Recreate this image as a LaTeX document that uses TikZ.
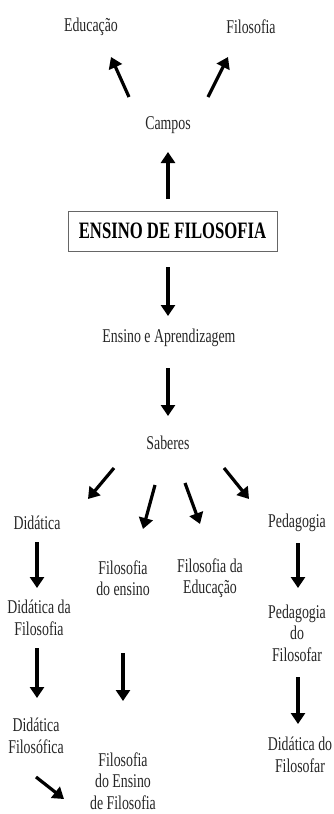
\documentclass[tikz,border=0pt]{standalone}
\usepackage{fontspec}
\setmainfont{Liberation Serif}[FakeStretch=0.71]
\usetikzlibrary{arrows.meta}
\begin{document}
\begin{tikzpicture}[x=1pt,y=-1pt,
  lbl/.style={font=\fontsize{19.5}{21.5}\selectfont,align=center,inner sep=0pt,text=black!85},
  arr/.style={line width=3.2pt,-{Triangle[width=14pt,length=11pt]}}]
\useasboundingbox (0,0) rectangle (334,814);
% nodes
\node[lbl] (edu) at (91,27) {Educação};
\node[lbl] (fil) at (251,27) {Filosofia};
\node[lbl] (campos) at (168,125) {Campos};
\node[draw=black!60,line width=0.9pt,minimum width=209pt,minimum height=40pt,inner sep=0pt,
  font=\fontsize{23.5}{26}\selectfont\bfseries] (ef) at (172.5,231) {ENSINO DE FILOSOFIA};
\node[lbl] (ea) at (169,338) {Ensino e Aprendizagem};
\node[lbl] (sab) at (168,443) {Saberes};
\node[lbl] (did) at (37,523) {Didática};
\node[lbl] (ped) at (297,523) {Pedagogia};
\node[lbl] (fde) at (123,578) {Filosofia\\do ensino};
\node[lbl] (fdaed) at (210,578) {Filosofia da\\Educação};
\node[lbl] (ddf) at (39,618) {Didática da\\Filosofia};
\node[lbl] (pdf) at (297,633) {Pedagogia\\do\\Filosofar};
\node[lbl] (dfil) at (36,736) {Didática\\Filosófica};
\node[lbl] (ddof) at (300,755) {Didática do\\Filosofar};
\node[lbl] (fdedf) at (123,781) {Filosofia\\do Ensino\\de Filosofia};
% arrow end points
\coordinate (c1a) at (129,97);  \coordinate (c1b) at (111,57);
\coordinate (c2a) at (208,97);  \coordinate (c2b) at (228,57);
\coordinate (c3a) at (168,199); \coordinate (c3b) at (168,152);
\coordinate (c4a) at (168,267); \coordinate (c4b) at (168,316);
\coordinate (c5a) at (168,368); \coordinate (c5b) at (168,416);
\coordinate (s1a) at (114,468); \coordinate (s1b) at (88,499);
\coordinate (s2a) at (155,485); \coordinate (s2b) at (143,529);
\coordinate (s3a) at (185,483); \coordinate (s3b) at (200,524);
\coordinate (s4a) at (224,468); \coordinate (s4b) at (249,499);
\coordinate (d1a) at (37,542);  \coordinate (d1b) at (37,588);
\coordinate (p1a) at (298,543); \coordinate (p1b) at (298,588);
\coordinate (d2a) at (37,648);  \coordinate (d2b) at (37,698);
\coordinate (f1a) at (123,653); \coordinate (f1b) at (123,701);
\coordinate (p2a) at (298,677); \coordinate (p2b) at (298,724);
\coordinate (d3a) at (36,777);  \coordinate (d3b) at (64,799);
% arrows
\foreach \a in {c1,c2,c3,c4,c5,s1,s2,s3,s4,d1,p1,d2,f1,p2,d3}
  \draw[arr] (\a a) -- (\a b);
\end{tikzpicture}
\end{document}
